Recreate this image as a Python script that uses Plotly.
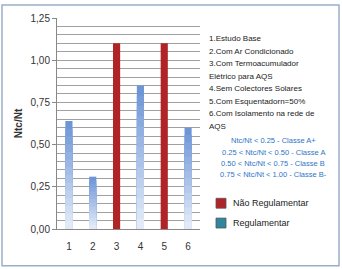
import plotly.graph_objects as go

categories = [1, 2, 3, 4, 5, 6]
values = [0.64, 0.31, 1.10, 0.85, 1.10, 0.60]
status = ["Regulamentar", "Regulamentar", "Não Regulamentar", "Regulamentar", "Não Regulamentar", "Regulamentar"]
ytick_vals = [0, 0.25, 0.5, 0.75, 1.0, 1.25]
ytick_text = ["0,00", "0,25", "0,50", "0,75", "1,00", "1,25"]
case_lines = ["1.Estudo Base", "2.Com Ar Condicionado", "3.Com Termoacumulador",
              "Elétrico para AQS", "4.Sem Colectores Solares", "5.Com Esquentadorn=50%",
              "6.Com Isolamento na rede de", "AQS"]
class_lines = ["Ntc/Nt < 0.25 - Classe A+", "0.25 < Ntc/Nt < 0.50 - Classe A",
               "0.50 < Ntc/Nt < 0.75 - Classe B", "0.75 < Ntc/Nt < 1.00 - Classe B-"]
legend_names = ["Não Regulamentar", "Regulamentar"]
legend_colors = ["#B02427", "#31859C"]

W, H = 342, 269
L, R, T, B = 57, 142, 16, 40
pw, ph = W - L - R, H - T - B

def px(x):
    return (x - L) / pw

def py(y):
    return (H - B - y) / ph

fig = go.Figure()
# red bars
red_x = [c for c, s in zip(categories, status) if s == "Não Regulamentar"]
red_y = [v for v, s in zip(values, status) if s == "Não Regulamentar"]
fig.add_trace(go.Bar(x=red_x, y=red_y, width=0.3, marker=dict(color="#B02427", line=dict(width=0)),
                     showlegend=False, hoverinfo="skip"))
# blue bars with vertical gradient (overlaid layers, dark on top -> light at bottom)
blue_x = [c for c, s in zip(categories, status) if s == "Regulamentar"]
blue_y = [v for v, s in zip(values, status) if s == "Regulamentar"]
top = (110, 150, 215)
bot = (226, 234, 248)
N = 14
for k in range(N):
    f = 1 - k / N
    t = k / (N - 1)
    col = "rgb(%d,%d,%d)" % tuple(round(top[i] + (bot[i] - top[i]) * t) for i in range(3))
    fig.add_trace(go.Bar(x=blue_x, y=[v * f for v in blue_y], width=0.3,
                         marker=dict(color=col, line=dict(width=0)),
                         showlegend=False, hoverinfo="skip"))

font = "Liberation Sans"
ann = []
y0 = 37
for i, t in enumerate(case_lines):
    ann.append(dict(x=px(207), y=py(y0 + i * 12.6), xref="paper", yref="paper",
                    text=t, showarrow=False, xanchor="left", yanchor="middle",
                    font=dict(family=font, size=8, color="#222")))
for i, t in enumerate(class_lines):
    ann.append(dict(x=px(273), y=py(140 + i * 11.3), xref="paper", yref="paper",
                    text=t, showarrow=False, xanchor="center", yanchor="middle",
                    font=dict(family=font, size=7.5, color="#2E75C8")))
shapes = []
for i, (n, c) in enumerate(zip(legend_names, legend_colors)):
    yc = 203 + i * 20
    shapes.append(dict(type="rect", xref="paper", yref="paper",
                       x0=px(216), x1=px(226), y0=py(yc - 5), y1=py(yc + 5),
                       fillcolor=c, line=dict(color="#555", width=0.8)))
    ann.append(dict(x=px(231), y=py(yc), xref="paper", yref="paper",
                    text=n, showarrow=False, xanchor="left", yanchor="middle",
                    font=dict(family=font, size=9, color="#222")))
shapes.append(dict(type="rect", xref="paper", yref="paper",
                   x0=px(2), x1=px(339), y0=py(266), y1=py(3),
                   line=dict(color="#9AAEC6", width=1.5), fillcolor="rgba(0,0,0,0)", layer="below"))

fig.update_layout(
    width=W, height=H, margin=dict(l=L, r=R, t=T, b=B),
    paper_bgcolor="white", plot_bgcolor="white", barmode="overlay",
    annotations=ann, shapes=shapes, showlegend=False,
    xaxis=dict(range=[0.5, 6.5], tickvals=categories, ticktext=[str(c) for c in categories],
               showgrid=False, showline=True, linecolor="#888", linewidth=1,
               ticks="", tickfont=dict(family=font, size=10, color="#333"), ticklabelstandoff=8),
    yaxis=dict(range=[0, 1.25], tickvals=ytick_vals, ticktext=ytick_text,
               showgrid=True, gridcolor="#A0A0A0", gridwidth=1,
               minor=dict(dtick=0.05, showgrid=True, gridcolor="#A0A0A0", gridwidth=1),
               showline=True, linecolor="#888", linewidth=1, zeroline=False,
               ticks="outside", ticklen=4, tickcolor="#888",
               tickfont=dict(family=font, size=10, color="#333"),
               title=dict(text="<b>Ntc/Nt</b>", font=dict(family=font, size=10, color="#333"), standoff=6)),
)
fig.write_html("out.html")
